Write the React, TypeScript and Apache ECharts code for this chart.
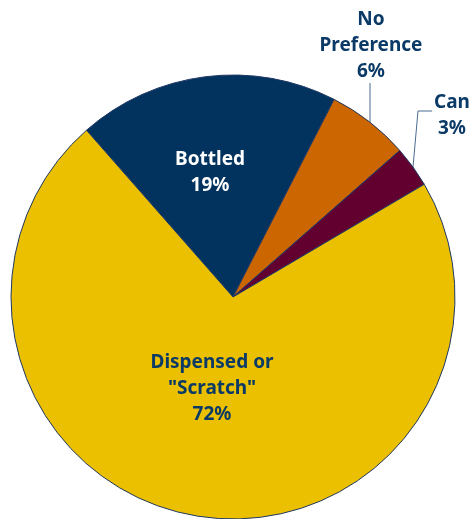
import React, { useEffect, useRef } from "react";
import * as echarts from "echarts";

const categories = ["Bottled", "No\nPreference", "Can", "Dispensed or\n\"Scratch\""];
const values = [19, 6, 3, 72];
const colors = ["#02335F", "#CC6600", "#620030", "#EBC000"];
const labelColors = ["#FFFFFF", "#0B3A66", "#0B3A66", "#0B3A66"];

// label layout (pixel positions of label centres and leader lines)
const labelPos: [number, number][] = [
  [210, 171],
  [371, 44],
  [452, 114],
  [212, 387],
];
const leaderLines: (number[][] | null)[] = [
  null,
  [[370, 122], [370, 100], [370, 83]],
  [[413, 167], [418, 111], [432, 111]],
  null,
];

export default function App() {
  const ref = useRef<HTMLDivElement>(null);
  useEffect(() => {
    if (!ref.current) return;
    const chart = echarts.init(ref.current, undefined, { renderer: "svg" });
    chart.setOption({
      animation: false,
      series: [
        {
          type: "pie",
          center: [233, 297],
          radius: 222,
          startAngle: 131.3,
          clockwise: true,
          avoidLabelOverlap: false,
          itemStyle: { borderColor: "#1F3864", borderWidth: 1 },
          label: {
            show: true,
            position: "outside",
            formatter: "{b}\n{c}%",
            fontFamily: "Noto Sans",
            fontWeight: "bold",
            fontSize: 19,
            lineHeight: 26,
            align: "center",
          },
          labelLine: {
            show: true,
            lineStyle: { color: "#4A6C90", width: 1 },
          },
          labelLayout: (params: any) => {
            const i = params.dataIndex;
            const res: any = {
              x: labelPos[i][0],
              y: labelPos[i][1],
              align: "center",
              verticalAlign: "middle",
            };
            if (leaderLines[i]) res.labelLinePoints = leaderLines[i];
            return res;
          },
          data: categories.map((name, i) => ({
            name,
            value: values[i],
            itemStyle: { color: colors[i] },
            label: { color: labelColors[i] },
            labelLine: { show: !!leaderLines[i] },
          })),
        },
      ],
    });
    return () => chart.dispose();
  }, []);
  return (
    <div
      ref={ref}
      style={{ position: "fixed", left: 0, top: 0, width: 473, height: 519 }}
    />
  );
}
